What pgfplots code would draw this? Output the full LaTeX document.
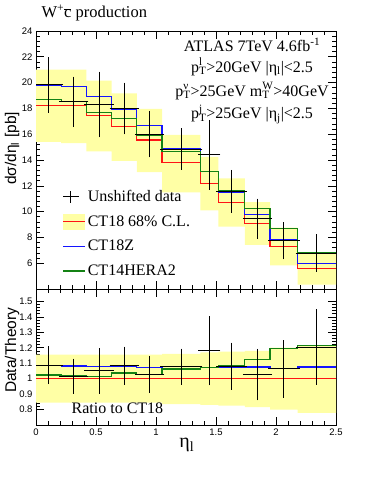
\documentclass[border=0pt]{standalone}
\usepackage{fontspec}
\setmainfont{Liberation Serif}
\newfontfamily\helv{Liberation Sans}
\usepackage{pgfplots}
\pgfplotsset{compat=1.18}
\usepgfplotslibrary{fillbetween}

\definecolor{band}{RGB}{255,255,165}
\definecolor{ctred}{RGB}{255,20,20}
\definecolor{ctblue}{RGB}{20,20,255}
\definecolor{ctgreen}{RGB}{20,130,20}

% superscript over subscript
\newcommand{\ps}[2]{\begingroup\setbox0\hbox{\textsuperscript{#1}}\setbox2\hbox{\textsubscript{#2}}%
  \ifdim\wd0>\wd2 \rlap{\box2}\box0\else\rlap{\box0}\box2\fi\endgroup}
\newcommand{\txt}{\fontsize{16}{19}\selectfont}

\pgfplotsset{
  rootax/.style={
    scale only axis, width=300pt,
    xmin=0, xmax=2.5,
    xtick={0,0.5,1,1.5,2,2.5}, minor x tick num=4,
    major tick length=8pt, minor tick length=4pt,
    tick style={black, line width=0.6pt},
    axis line style={line width=0.8pt},
    ticklabel style={font=\helv\fontsize{9.5}{10}\selectfont},
    /pgf/number format/assume math mode=true,
  },
  hist/.style={const plot, line width=1.2pt, forget plot},
  dat/.style={draw=none, mark=none, forget plot,
    error bars/.cd, x dir=both, x explicit, y dir=both, y explicit,
    error bar style={draw=black, line width=0.9pt},
    error mark options={draw=black, mark size=2pt, line width=0.9pt}},
  lline/.style={line width=1.5pt, legend image code/.code={
    \draw[#1, line width=1.5pt] (0pt,0pt)--(22pt,0pt);}},
}

\begin{document}
\begin{tikzpicture}
\node[anchor=base west, font=\fontsize{16.5}{19}\selectfont] at (38pt,-18pt)
  {W\textsuperscript{+}\ensuremath{\overline{\mbox{c}}} production};

\begin{axis}[rootax, name=top, at={(36pt,-31pt)}, anchor=north west,
  height=258pt, ymin=4, ymax=24,
  ytick={6,8,...,24}, minor y tick num=4, xticklabels={},
  ylabel={dσ/dη\textsubscript{l} [pb]},
  every axis y label/.style={at={(axis description cs:-0.08,0.545)}, rotate=90, anchor=center,
    font=\helv\fontsize{15.5}{18}\selectfont},
  legend style={at={(axis description cs:0.087,0.038)}, anchor=south west, draw=none, fill=none,
    font=\txt, inner sep=0pt, row sep=8.5pt},
  legend cell align=left,
]
\addplot[name path=bt, draw=none, const plot, forget plot] coordinates {
  (0,21.0)(0.21,21.0)(0.42,20.15)(0.63,19.17)(0.84,17.96)(1.05,15.95)(1.37,14.24)(1.52,12.57)(1.74,10.74)(1.95,8.76)(2.18,6.73)(2.5,6.73)};
\addplot[name path=bb, draw=none, const plot, forget plot] coordinates {
  (0,15.4)(0.21,15.3)(0.42,14.66)(0.63,13.94)(0.84,13.06)(1.05,11.5)(1.37,10.1)(1.52,8.83)(1.74,7.42)(1.95,5.84)(2.18,4.33)(2.5,4.33)};
\addplot[band, forget plot] fill between[of=bt and bb];
\addplot[hist, ctred] coordinates {
  (0,18.2)(0.21,18.2)(0.42,17.45)(0.63,16.6)(0.84,15.55)(1.05,13.78)(1.37,12.17)(1.52,10.7)(1.74,9.1)(1.95,7.3)(2.18,5.56)(2.5,5.56)};
\addplot[hist, ctblue] coordinates {
  (0,19.8)(0.21,19.67)(0.42,18.9)(0.63,17.9)(0.84,16.7)(1.05,14.9)(1.37,13.08)(1.52,11.45)(1.74,9.8)(1.95,7.8)(2.18,6.0)(2.5,6.0)};
\addplot[hist, ctgreen] coordinates {
  (0,18.7)(0.21,18.55)(0.42,17.7)(0.63,17.2)(0.84,15.9)(1.05,14.65)(1.37,13.08)(1.52,11.63)(1.74,10.25)(1.95,8.72)(2.18,6.8)(2.5,6.8)};
\addplot[dat] table[x=x, y=y, x error=ex, y error=ey] {
  x     y     ex    ey
  0.105 19.82 0.105 2.0
  0.315 18.5  0.105 1.8
  0.525 18.3  0.105 2.4
  0.735 18.0  0.105 1.85
  0.945 16.0  0.105 1.65
  1.21  14.85 0.16  1.45
  1.445 14.4  0.075 2.55
  1.63  11.57 0.11  1.5
  1.845 9.45  0.105 1.4
  2.065 7.73  0.115 1.28
  2.34  6.78  0.16  1.3
};
\addlegendimage{black, line width=1pt, legend image code/.code={
  \draw[black, line width=1pt] (0pt,0pt)--(16pt,0pt);
  \draw[black, line width=1pt] (7pt,-6pt)--(7pt,6pt);}}
\addlegendentry{Unshifted data}
\addlegendimage{ctred, line width=1.5pt, legend image code/.code={
  \fill[band, draw=none] (0pt,-8pt) rectangle (22pt,8pt);
  \draw[ctred, line width=1.5pt] (0pt,0pt)--(22pt,0pt);}}
\addlegendentry{CT18 68\% C.L.}
\addlegendimage{ctblue, lline=ctblue}
\addlegendentry{CT18Z}
\addlegendimage{ctgreen, lline=ctgreen}
\addlegendentry{CT14HERA2}
\node[anchor=base, font=\txt] at (rel axis cs:0.72,0.919) {ATLAS 7TeV 4.6fb\textsuperscript{-1}};
\node[anchor=base, font=\txt] at (rel axis cs:0.72,0.841) {p\ps{l}{T}>20GeV |η\textsubscript{l}|<2.5};
\node[anchor=base, font=\txt] at (rel axis cs:0.72,0.748) {p\ps{ν}{T}>25GeV m\ps{W}{T}>40GeV};
\node[anchor=base, font=\txt] at (rel axis cs:0.72,0.659) {p\ps{j}{T}>25GeV |η\textsubscript{j}|<2.5};
\end{axis}

\begin{axis}[rootax, at={(36pt,-289pt)}, anchor=north west,
  height=136pt, ymin=0.7, ymax=1.58,
  ytick={0.8,0.9,1,1.1,1.2,1.3,1.4,1.5}, minor y tick num=4,
  ylabel={Data/Theory}, xlabel={η\textsubscript{l}},
  every axis y label/.style={at={(axis description cs:-0.08,0.55)}, rotate=90, anchor=center,
    font=\helv\fontsize{15.5}{18}\selectfont},
  every axis x label/.style={at={(axis description cs:0.503,-0.15)}, anchor=center,
    font=\fontsize{20}{22}\selectfont},
]
\addplot[name path=rt, draw=none, const plot, forget plot] coordinates {
  (0,1.155)(0.21,1.155)(0.42,1.155)(0.63,1.155)(0.84,1.155)(1.05,1.16)(1.37,1.17)(1.52,1.175)(1.74,1.18)(1.95,1.2)(2.18,1.21)(2.5,1.21)};
\addplot[name path=rb, draw=none, const plot, forget plot] coordinates {
  (0,0.845)(0.21,0.845)(0.42,0.845)(0.63,0.845)(0.84,0.845)(1.05,0.835)(1.37,0.83)(1.52,0.825)(1.74,0.815)(1.95,0.80)(2.18,0.778)(2.5,0.778)};
\addplot[band, forget plot] fill between[of=rt and rb];
\addplot[hist, ctred] coordinates {(0,1)(2.5,1)};
\addplot[hist, ctblue] coordinates {
  (0,1.084)(0.21,1.082)(0.42,1.08)(0.63,1.077)(0.84,1.073)(1.05,1.078)(1.37,1.073)(1.52,1.07)(1.74,1.075)(1.95,1.066)(2.18,1.075)(2.5,1.075)};
\addplot[hist, ctgreen] coordinates {
  (0,1.024)(0.21,1.02)(0.42,1.012)(0.63,1.036)(0.84,1.025)(1.05,1.063)(1.37,1.073)(1.52,1.085)(1.74,1.125)(1.95,1.197)(2.18,1.215)(2.5,1.215)};
\addplot[dat] table[x=x, y=y, x error=ex, y error=ey] {
  x     y     ex    ey
  0.105 1.087 0.105 0.11
  0.315 1.016 0.105 0.10
  0.525 1.05  0.105 0.135
  0.735 1.084 0.105 0.11
  0.945 1.027 0.105 0.107
  1.21  1.078 0.16  0.104
  1.445 1.18  0.075 0.21
  1.63  1.08  0.11  0.14
  1.845 1.026 0.105 0.153
  2.065 1.063 0.115 0.174
  2.34  1.205 0.16  0.232
};
\node[anchor=base west, font=\txt] at (rel axis cs:0.107,0.081) {Ratio to CT18};
\end{axis}
\path (0,0) rectangle (374pt,-484pt);
\end{tikzpicture}
\end{document}
